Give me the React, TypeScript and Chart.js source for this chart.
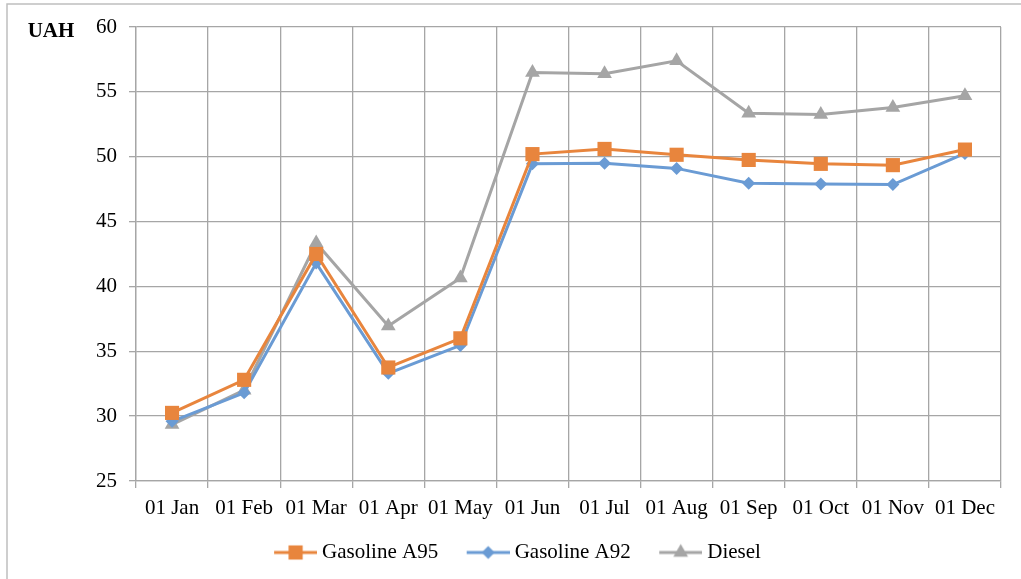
import React, { useEffect, useRef } from 'react';
import { Chart, registerables } from 'chart.js';

Chart.register(...registerables);

const categories = ['01 Jan', '01 Feb', '01 Mar', '01 Apr', '01 May', '01 Jun', '01 Jul', '01 Aug', '01 Sep', '01 Oct', '01 Nov', '01 Dec'];
const gasolineA95 = [30.25, 32.8, 42.5, 33.75, 36.0, 50.2, 50.6, 50.15, 49.75, 49.45, 49.35, 50.55];
const gasolineA92 = [29.6, 31.8, 41.8, 33.3, 35.45, 49.45, 49.5, 49.1, 47.95, 47.9, 47.85, 50.25];
const diesel = [29.35, 32.0, 43.35, 36.95, 40.65, 56.5, 56.4, 57.4, 53.35, 53.25, 53.8, 54.7];
const seriesNames = ['Gasoline A95', 'Gasoline A92', 'Diesel'];
const yTicks = [25, 30, 35, 40, 45, 50, 55, 60];
const unitLabel = 'UAH';

const ORANGE = '#E8853D';
const BLUE = '#6A9BD4';
const GRAY = '#A5A5A5';
const GRID = '#A6A6A6';
const FONT = "'Liberation Serif', 'Times New Roman', serif";

const BOX_W = 56;
const LINE_LEN = 43;

function drawMarker(ctx: CanvasRenderingContext2D, style: string, x: number, y: number, r: number) {
  ctx.beginPath();
  if (style === 'rect') {
    const s = Math.SQRT1_2 * r;
    ctx.rect(x - s, y - s, 2 * s, 2 * s);
  } else if (style === 'rectRot') {
    ctx.moveTo(x, y - r);
    ctx.lineTo(x + r, y);
    ctx.lineTo(x, y + r);
    ctx.lineTo(x - r, y);
    ctx.closePath();
  } else {
    const a = (2 * Math.PI) / 3;
    ctx.moveTo(x, y - r);
    ctx.lineTo(x + Math.sin(a) * r, y - Math.cos(a) * r);
    ctx.lineTo(x + Math.sin(2 * a) * r, y - Math.cos(2 * a) * r);
    ctx.closePath();
  }
  ctx.fill();
}

// legend icon: a line with the marker in its middle, placed close to the text
function makeIcon(color: string, style: string, r: number) {
  const w = BOX_W + 11;
  const c = document.createElement('canvas');
  c.width = w;
  c.height = 22;
  const ctx = c.getContext('2d')!;
  ctx.strokeStyle = color;
  ctx.fillStyle = color;
  ctx.lineWidth = 3;
  ctx.beginPath();
  ctx.moveTo(w - LINE_LEN, 11);
  ctx.lineTo(w, 11);
  ctx.stroke();
  drawMarker(ctx, style, w - LINE_LEN / 2, 11, r);
  return c;
}

const frameAndUnit = {
  id: 'frameAndUnit',
  beforeDraw(chart: any) {
    const ctx = chart.ctx;
    ctx.save();
    ctx.fillStyle = '#ffffff';
    ctx.fillRect(0, 0, chart.width, chart.height);
    ctx.strokeStyle = '#BFBFBF';
    ctx.lineWidth = 1.5;
    ctx.beginPath();
    ctx.moveTo(7, chart.height);
    ctx.lineTo(7, 4);
    ctx.lineTo(chart.width, 4);
    ctx.stroke();
    ctx.restore();
  },
  afterDraw(chart: any) {
    const ctx = chart.ctx;
    ctx.save();
    ctx.fillStyle = '#000';
    ctx.font = `bold 21px ${FONT}`;
    ctx.textAlign = 'center';
    ctx.textBaseline = 'middle';
    ctx.fillText(unitLabel, 51, 32);
    ctx.restore();
  },
};

export default function App() {
  const ref = useRef<HTMLCanvasElement>(null);
  useEffect(() => {
    document.body.style.margin = '0';
    const styles = ['rect', 'rectRot', 'triangle'];
    const colors = [ORANGE, BLUE, GRAY];
    const radii = [10, 6.5, 8.5];
    const data = [gasolineA95, gasolineA92, diesel];
    const icons = styles.map((s, i) => makeIcon(colors[i], s, radii[i]));
    const chart = new Chart(ref.current!, {
      type: 'line',
      data: {
        labels: categories,
        datasets: seriesNames.map((name, i) => ({
          label: name,
          data: data[i],
          borderColor: colors[i],
          backgroundColor: colors[i],
          borderWidth: 3,
          pointStyle: styles[i],
          pointRadius: radii[i],
          pointBorderWidth: 0,
          pointBackgroundColor: colors[i],
          tension: 0,
        })),
      },
      options: {
        responsive: false,
        animation: false,
        layout: { padding: { left: 15.5, top: 27, right: 20, bottom: 6 } },
        plugins: {
          tooltip: { enabled: false },
          legend: {
            position: 'bottom',
            labels: {
              usePointStyle: true,
              pointStyleWidth: BOX_W,
              padding: 10,
              color: '#000',
              font: { family: FONT, size: 21 },
              generateLabels: (ch: any) =>
                ch.data.datasets.map((ds: any, i: number) => ({
                  text: ds.label,
                  pointStyle: icons[i],
                  fillStyle: colors[i],
                  strokeStyle: colors[i],
                  lineWidth: 0,
                  datasetIndex: i,
                  hidden: false,
                })),
            },
          },
        },
        scales: {
          x: {
            offset: true,
            grid: { offset: true, color: GRID, lineWidth: 1.3, tickLength: 7 },
            border: { color: GRID, width: 1.3 },
            ticks: { color: '#000', font: { family: FONT, size: 21 }, padding: 8, maxRotation: 0, autoSkip: false },
            afterFit: (s: any) => { s.height = 51; },
          },
          y: {
            min: 25,
            max: 60,
            afterBuildTicks: (s: any) => { s.ticks = yTicks.map((v) => ({ value: v })); },
            grid: { color: GRID, lineWidth: 1.3, tickLength: 7 },
            border: { color: GRID, width: 1.3 },
            ticks: { color: '#000', font: { family: FONT, size: 21 }, padding: 12 },
            afterFit: (s: any) => { s.width = 120.5; },
          },
        },
      },
      plugins: [frameAndUnit],
    });
    return () => chart.destroy();
  }, []);
  return (
    <div style={{ width: 1021, height: 579 }}>
      <canvas ref={ref} width={1021} height={579} style={{ display: 'block' }} />
    </div>
  );
}
